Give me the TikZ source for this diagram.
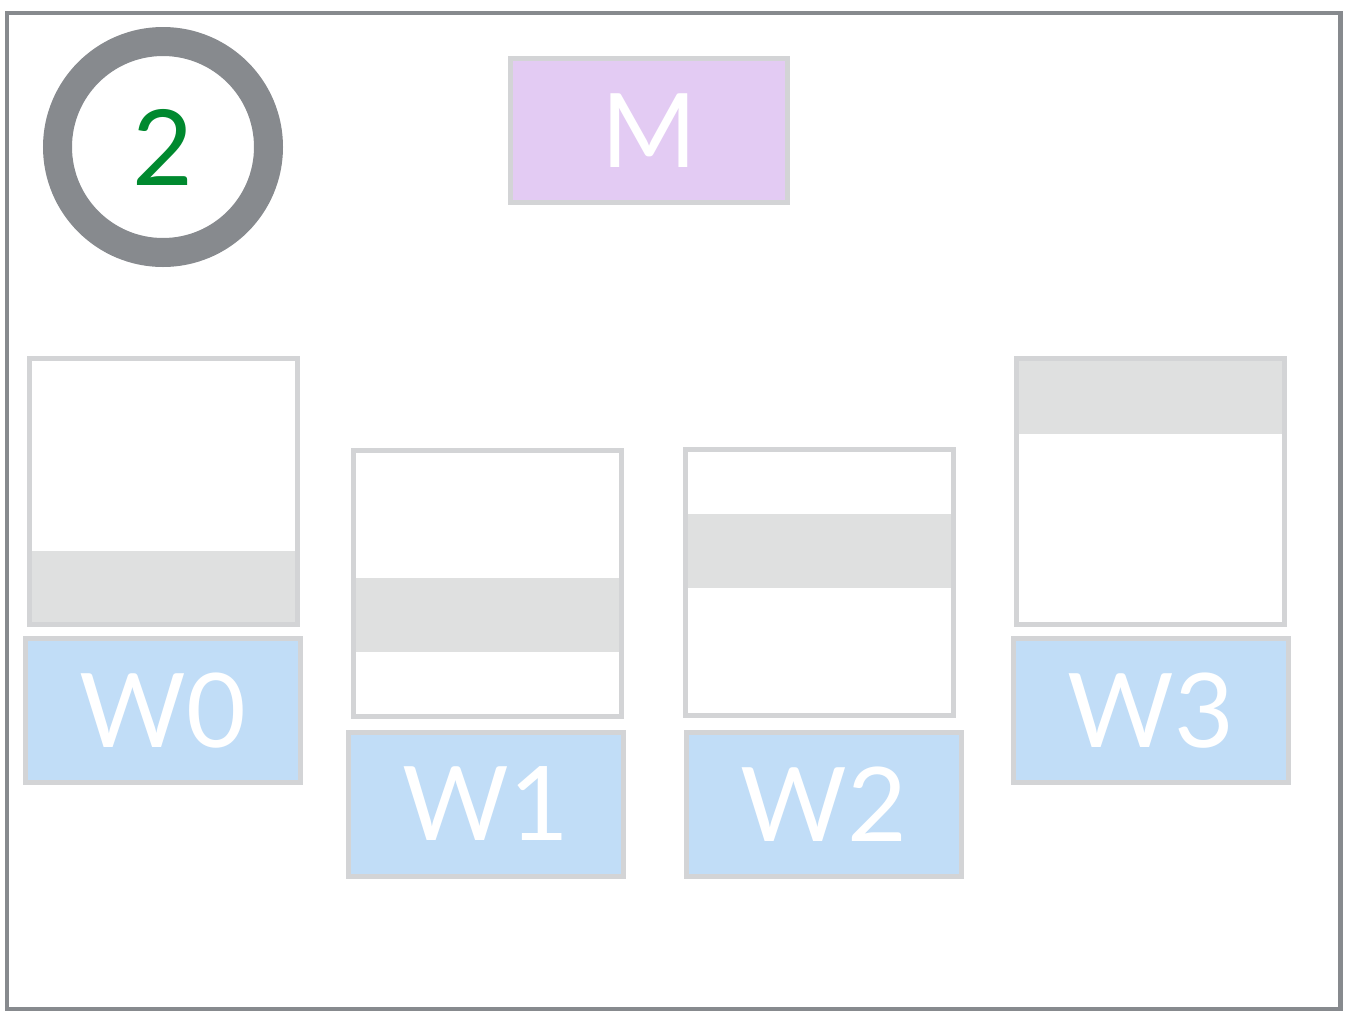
\documentclass[tikz,border=0pt]{standalone}
\usepackage{fontspec}
\setmainfont{Lato}
\definecolor{framegray}{HTML}{878A8E}
\definecolor{edgegray}{HTML}{D3D4D6}
\definecolor{bandgray}{HTML}{DFE0E0}
\definecolor{mfill}{HTML}{E3CBF3}
\definecolor{wfill}{HTML}{C1DDF7}
\definecolor{numgreen}{HTML}{00892F}
\tikzset{
  store/.style={draw=edgegray, line width=5pt, minimum width=268pt, minimum height=266pt, inner sep=0pt},
  band/.style={fill=bandgray},
  wlabel/.style={draw=edgegray, line width=5pt, fill=wfill, minimum width=275pt, minimum height=144pt, inner sep=0pt, text=white, font=\fontsize{103}{103}\selectfont},
  mlabel/.style={wlabel, fill=mfill, minimum width=277pt},
  badge/.style={circle, draw=framegray, line width=29pt, minimum size=211pt, inner sep=0pt, text=numgreen, font=\fontsize{105}{105}\selectfont}
}
\begin{document}
\begin{tikzpicture}[x=1pt,y=-1pt]
\useasboundingbox (0,0) rectangle (1353,1013);
\draw[framegray, line width=4.5pt] (7,13) rectangle (1340.5,1009);
% badge
\node[badge] (num) at (163,147) {2};
% master
\node[mlabel] (M) at (649,130.5) {M};
% bands (drawn under the store borders)
\fill[band] (29.5,551) rectangle (297.5,624.5);
\fill[band] (353.5,578) rectangle (620.5,652);
\fill[band] (685.5,514) rectangle (953.5,588);
\fill[band] (1016,358.5) rectangle (1284,434);
% stores
\node[store] (s0) at (163.5,491.5) {};
\node[store] (s1) at (487,583.5) {};
\node[store] (s2) at (819.5,582.5) {};
\node[store] (s3) at (1150,491.5) {};
% worker labels
\node[wlabel] (w0) at (163,710.5) {W0};
\node[wlabel] (w1) at (485.5,804) {W1};
\node[wlabel] (w2) at (823.5,804) {W2};
\node[wlabel] (w3) at (1150.5,710.5) {W3};
\end{tikzpicture}
\end{document}
